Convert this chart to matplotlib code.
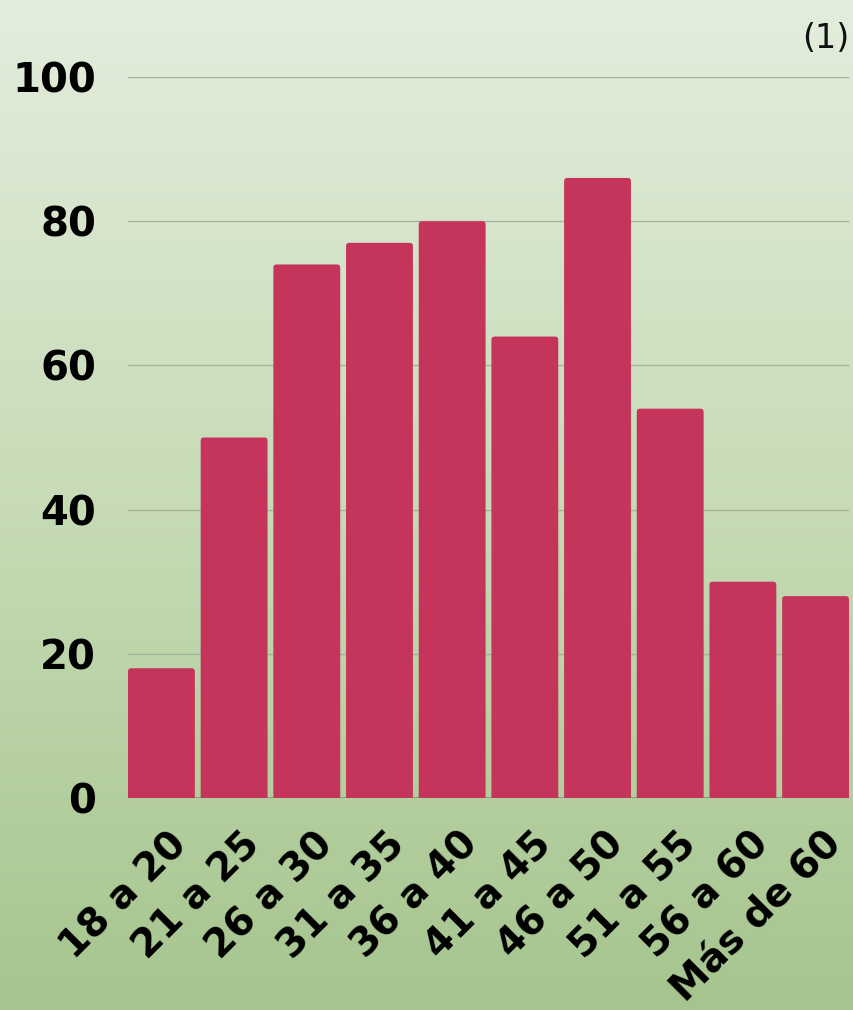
import numpy as np
import matplotlib
matplotlib.use("Agg")
import matplotlib.pyplot as plt
from matplotlib.colors import LinearSegmentedColormap
from matplotlib.patches import FancyBboxPatch
from matplotlib.transforms import ScaledTranslation

categories = ["18 a 20", "21 a 25", "26 a 30", "31 a 35", "36 a 40",
              "41 a 45", "46 a 50", "51 a 55", "56 a 60", "Más de 60"]
values = [18, 50, 74, 77, 80, 64, 86, 54, 30, 28]
yticks = [0, 20, 40, 60, 80, 100]

W, H = 854, 1010
fig = plt.figure(figsize=(W / 100, H / 100), dpi=100)

# gradient background
bg = fig.add_axes([0, 0, 1, 1], zorder=0)
cmap = LinearSegmentedColormap.from_list("g", ["#e3eddd", "#c6dbb6", "#a6c58e"])
grad = np.linspace(0, 1, 256).reshape(-1, 1)
bg.imshow(grad, aspect="auto", cmap=cmap, extent=[0, 1, 0, 1], origin="upper")
bg.axis("off")

ax = fig.add_axes([128 / W, (H - 798) / H, (849 - 128) / W, (798 - 77) / H], zorder=1)
ax.patch.set_alpha(0)
x = np.arange(len(categories))
ax.set_xlim(-0.46, len(categories) - 0.54)
ax.set_ylim(0, 100)

bw = 0.92
# pixel scales for rounding
px_x = (849 - 128) / (len(categories) - 0.08)
px_y = (798 - 77) / 100
for xi, v in zip(x, values):
    p = FancyBboxPatch((xi - bw / 2, -2), bw, v + 2,
                       boxstyle="round,pad=0,rounding_size=0.045",
                       mutation_aspect=px_x / px_y,
                       facecolor="#c5345a", edgecolor="none", zorder=3)
    ax.add_patch(p)

ax.set_yticks(yticks)
ax.yaxis.grid(True, color="#a3b498", linewidth=1, zorder=0)
ax.axhline(0, color="#7f9c74", linewidth=2, zorder=2)
for s in ax.spines.values():
    s.set_visible(False)
ax.tick_params(axis="both", length=0)
ax.tick_params(axis="y", pad=23)
ax.set_yticklabels([str(v) for v in yticks], fontsize=29, fontweight="bold",
                   family="DejaVu Sans")
ax.set_xticks(x)
ax.set_xticklabels(categories, rotation=45, ha="right", va="center",
                   rotation_mode="anchor", fontsize=28, fontweight="bold",
                   family="DejaVu Sans")
ax.tick_params(axis="x", pad=29)
off = ScaledTranslation(20 / 100, 0, fig.dpi_scale_trans)
for lab in ax.get_xticklabels():
    lab.set_transform(lab.get_transform() + off)

fig.text(849 / W, 1 - 38 / H, "(1)", ha="right", va="center", fontsize=24,
         family="DejaVu Sans", color="#111111")

fig.savefig("out.png", dpi=100)
